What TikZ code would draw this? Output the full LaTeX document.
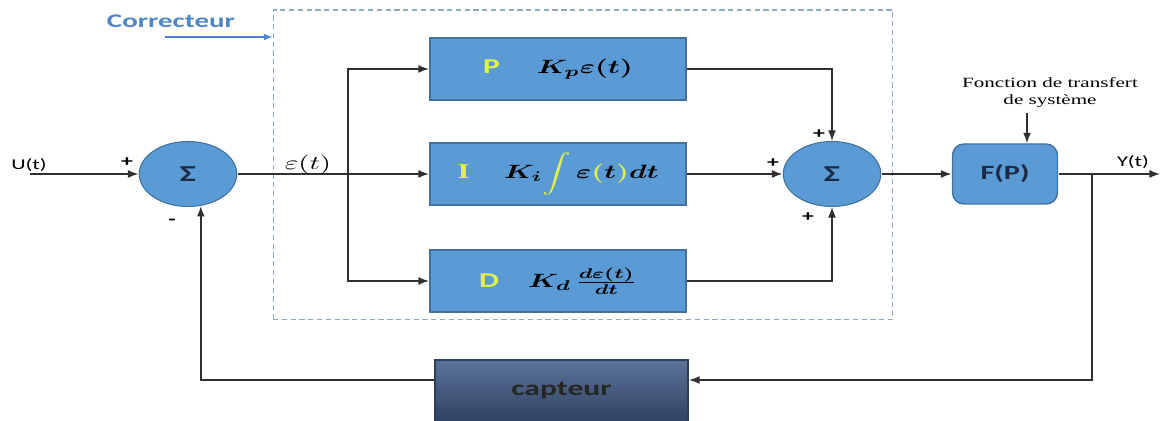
\documentclass[tikz,border=0pt]{standalone}
\usepackage{fontspec}
\usepackage{amsmath,bm}
\usetikzlibrary{arrows.meta}
\newfontfamily\labelfont{Carlito}
\newfontfamily\seriffont{Liberation Serif}
\definecolor{blockblue}{HTML}{5B9BD5}
\definecolor{blockedge}{HTML}{41719C}
\definecolor{pidyellow}{RGB}{226,240,72}
\definecolor{sigmanavy}{HTML}{1B2A47}
\definecolor{framegrey}{HTML}{8EA9C8}
\definecolor{noteblue}{HTML}{4F86C6}
\definecolor{sensortop}{HTML}{5C7399}
\definecolor{sensorbot}{HTML}{2E4262}
\definecolor{sensoredge}{HTML}{2F3F5A}
\definecolor{wirecol}{HTML}{303030}

\begin{document}
\begin{tikzpicture}[x=0.02cm, y=-0.02cm,
  wide/.style={xscale=1.5},
  block/.style={wide, draw=blockedge, fill=blockblue, line width=0.8pt,
    minimum width=3.413cm, minimum height=1.24cm, inner sep=0pt,
    font=\fontsize{11}{13}\selectfont},
  sumnode/.style={wide, circle, draw=blockedge, fill=blockblue, line width=0.6pt,
    minimum size=1.3cm, inner sep=0pt,
    font=\labelfont\bfseries\fontsize{13}{15}\selectfont, text=sigmanavy},
  wire/.style={draw=wirecol, line width=0.8pt},
  arr/.style={wire, -{Latex[length=6pt,width=4.5pt]}},
  sign/.style={wide, inner sep=0pt, font=\labelfont\bfseries\fontsize{9}{10}\selectfont},
  signal/.style={wide, inner sep=0pt, font=\labelfont\fontsize{8.5}{10}\selectfont},
  letter/.style={text=pidyellow}
]
\useasboundingbox (0,0) rectangle (1165,421);

% dashed frame around the PID corrector
\node[draw=framegrey, dash pattern=on 3pt off 2pt, line width=0.6pt,
  minimum width=12.4cm, minimum height=6.2cm, inner sep=0pt] (frame) at (583,165) {};
\node[wide, inner sep=0pt, text=noteblue,
  font=\labelfont\bfseries\fontsize{11}{13}\selectfont] (corrlabel) at (171,21) {Correcteur};
\coordinate (ctail) at (165,37);
\draw[draw=noteblue, line width=0.7pt, -{Latex[length=5pt,width=4pt]}] (ctail) -- (ctail -| frame.west);

% summing junctions
\node[sumnode] (s1) at (188,174) {Σ};
\node[sumnode] (s2) at (832,174) {Σ};

% P, I and D branches
\node[block] (P) at (558,69)
  {{\labelfont\bfseries\fontsize{12}{14}\selectfont\color{pidyellow}P}\hspace{14pt}$\bm{K_p\varepsilon(t)}$};
\node[block] (I) at (558,174)
  {{\seriffont\bfseries\fontsize{12}{14}\selectfont\color{pidyellow}I}\hspace{13pt}$\bm{K_i}\displaystyle{\color{pidyellow}\int}\,\bm{\varepsilon}{\color{pidyellow}\bm{(}}\bm{t}{\color{pidyellow}\bm{)}}\bm{dt}$};
\node[block] (D) at (558,281)
  {{\labelfont\bfseries\fontsize{12}{14}\selectfont\color{pidyellow}D}\hspace{11pt}$\bm{K_d}\,\frac{\bm{d\varepsilon(t)}}{\bm{dt}}$};

% plant and sensor
\node[wide, draw=blockedge, fill=blockblue, line width=0.8pt, rounded corners=6.5pt,
  minimum width=1.4cm, minimum height=1.2cm, inner sep=0pt, text=sigmanavy,
  font=\labelfont\bfseries\fontsize{11.5}{13}\selectfont] (F) at (1005,174) {F(P)};
\node[wide, draw=sensoredge, top color=sensortop, bottom color=sensorbot, line width=0.8pt,
  minimum width=3.373cm, minimum height=1.24cm, inner sep=0pt, text=black!85,
  font=\labelfont\bfseries\fontsize{12}{14}\selectfont] (cap) at (561.5,391) {capteur};

\node[wide, align=center, inner sep=0pt,
  font=\seriffont\fontsize{8}{9.6}\selectfont] (ftext) at (1050,93) {Fonction de transfert\\de système};
\coordinate (fin) at (1027,113);
\draw[arr] (fin) -- (fin |- F.north);

% input and first junction
\coordinate (uin) at (30,174);
\node[signal] (ulabel) at (29,165) {U(t)};
\draw[arr] (uin) -- (s1.west);
\node[sign] (plus1) at (127,162) {+};
\node[sign] (minus1) at (172,222) {-};

% error signal and its three branches
\draw[arr] (s1.east) -- (I.west);
\node[wide, inner sep=0pt, font=\fontsize{11}{13}\selectfont] (eps) at (308,165) {$\varepsilon(t)$};
\coordinate (split) at (348,174);
\draw[arr] (split) |- (P.west);
\draw[arr] (split) |- (D.west);

% recombination
\draw[arr] (P.east) -| (s2.north);
\draw[arr] (I.east) -- (s2.west);
\draw[arr] (D.east) -| (s2.south);
\node[sign] (plus2) at (819,134) {+};
\node[sign] (plus3) at (773,163) {+};
\node[sign] (plus4) at (808,217) {+};

% plant and output
\draw[arr] (s2.east) -- (F.west);
\coordinate (yout) at (1160,174);
\draw[arr] (F.east) -- (yout);
\node[signal] (ylabel) at (1133,162) {Y(t)};

% feedback through the sensor
\coordinate (tap) at (1092,174);
\coordinate (fbr) at (1092,380);
\draw[arr] (tap) -- (fbr) -- (fbr -| cap.east);
\draw[arr, line width=1pt] (cap.west |- fbr) -| (s1.285);
\end{tikzpicture}
\end{document}
